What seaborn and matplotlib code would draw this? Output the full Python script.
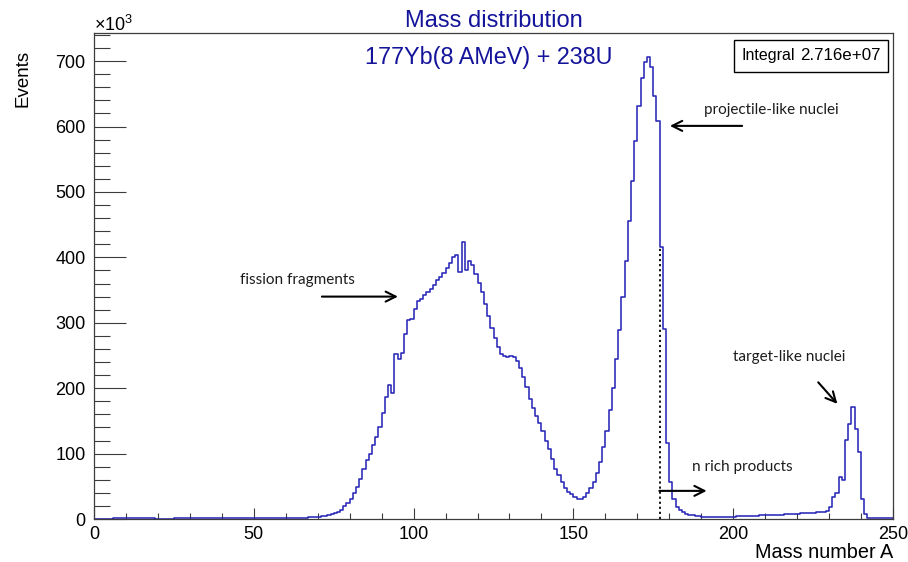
import numpy as np
import pandas as pd
import matplotlib
matplotlib.use("Agg")
import matplotlib.pyplot as plt
from matplotlib.ticker import MultipleLocator, FixedLocator
from matplotlib.patches import Rectangle
import seaborn as sns

# ---------------- data (events per unit-mass bin, in thousands) ----------------
mass_number = list(range(0, 250))          # left edge of each bin
bin_edges = list(range(0, 251))
events_k = [
    0, 0, 0, 0, 0, 0, 1.2, 1.2, 1.2, 1.2,                       # 0-9
    1.2, 1.2, 1.2, 1.2, 1.2, 1.2, 1.2, 1.2, 1.2, 0,             # 10-19
    0, 0, 0, 0, 0, 1.2, 1.2, 1.2, 1.2, 1.2,                     # 20-29
    1.2, 1.2, 1.2, 1.2, 1.2, 1.2, 1.2, 1.2, 1.2, 1.2,           # 30-39
    1.2, 1.2, 1.2, 1.2, 1.2, 1.2, 1.2, 1.2, 1.2, 1.2,           # 40-49
    1.2, 1.2, 1.2, 1.2, 1.2, 1.2, 1.2, 1.2, 1.2, 1.2,           # 50-59
    1.3, 1.4, 1.5, 1.6, 1.8, 2.0, 2.2, 2.5, 2.8, 3.2,           # 60-69
    3.6, 4.2, 5.0, 6.0, 7.2, 8.7, 11, 14.5, 19.5, 24.7,         # 70-79
    31.3, 39, 49, 61.7, 75.8, 90, 100, 113, 125.7, 140,         # 80-89
    162.5, 187, 205.6, 193, 252, 245, 254, 283, 304.8, 305,     # 90-99
    320.6, 334, 337, 342, 347, 352, 357, 365, 370, 376,         # 100-109
    384, 391, 400, 403, 377.6, 423, 380, 395, 389, 375,         # 110-119
    361, 347, 329, 311, 292, 276, 263, 252, 249, 248,           # 120-129
    249.5, 248, 241, 231.5, 217, 202, 184, 170, 158, 147,       # 130-139
    134, 120, 107, 91, 77, 67, 56, 47, 42, 37.7,                # 140-149
    34, 31, 30, 34, 40, 47, 57, 71, 87.5, 110,                  # 150-159
    135, 167, 201, 244, 289.5, 340, 394, 456, 517, 578,         # 160-169
    632, 674, 698, 705.6, 691, 647, 609, 416, 291, 116.5,       # 170-179
    57, 30, 19, 13, 10, 8, 6.5, 5.5, 4.5, 4,                    # 180-189
    3.5, 3.4, 3.3, 3.3, 3.2, 3.2, 3.3, 3.4, 3.5, 3.6,           # 190-199
    3.8, 4, 4.2, 4.4, 4.6, 4.8, 5, 5.2, 5.4, 5.6,               # 200-209
    5.8, 6, 6.2, 6.4, 6.6, 6.8, 7, 7.3, 7.6, 7.9,               # 210-219
    8.2, 8.5, 8.8, 9.1, 9.4, 9.7, 10, 10.5, 11, 12,             # 220-229
    18.6, 33, 39, 63.6, 59.5, 120.6, 146, 170.5, 138, 102.7,    # 230-239
    30, 7.6, 1.5, 1.5, 1.5, 1.5, 1.5, 1.5, 1.5, 1.5,            # 240-249
]
projectile_mass = 177

title = "Mass distribution"
subtitle = "177Yb(8 AMeV) + 238U"
integral_label = "Integral"
integral_value = "2.716e+07"
x_label = "Mass number A"
y_label = "Events"
x_ticks = [0, 50, 100, 150, 200, 250]
y_ticks = [0, 100, 200, 300, 400, 500, 600, 700]

# annotations: (text, text pos, arrow tail, arrow head) in data coords
annotations = [
    ("fission fragments", (45.7, 365), (71.3, 340), (95.1, 340)),
    ("projectile-like nuclei", (191.0, 625), (202.8, 601), (180.2, 601)),
    ("target-like nuclei", (199.9, 247), (226.6, 209), (232.6, 176)),
    ("n rich products", (187.1, 79), (176.9, 43), (191.7, 43)),
]

# ---------------- style ----------------
sns.set_theme(style="ticks")
plt.rcParams["font.family"] = ["Liberation Sans", "DejaVu Sans"]
plt.rcParams["mathtext.fontset"] = "custom"
plt.rcParams["mathtext.rm"] = "Liberation Sans"
plt.rcParams["mathtext.it"] = "Liberation Sans:italic"

blue_text = "#14149b"
hist_color = "#2828b8"
frame_color = "#3c3c3c"

W, H = 908, 562
fig = plt.figure(figsize=(W / 100, H / 100), dpi=100)
L, R, T, B = 94, 893, 33, 519
ax = fig.add_axes([L / W, 1 - B / H, (R - L) / W, (B - T) / H])

df = pd.DataFrame({"A": np.array(mass_number) + 0.5, "events": events_k})
sns.histplot(data=df, x="A", weights="events", bins=bin_edges, element="step",
             fill=False, color=hist_color, linewidth=1.15, ax=ax, zorder=2)

# dotted marker at projectile mass, up to the bin height
ax.vlines(projectile_mass, 0, events_k[mass_number.index(projectile_mass)],
          colors="black", linestyles=(0, (1.2, 1.6)), linewidth=1.3, zorder=3)

ax.set_xlim(0, 250)
ax.set_ylim(0, 743)

# ticks
ax.xaxis.set_major_locator(FixedLocator(x_ticks))
ax.xaxis.set_minor_locator(MultipleLocator(10))
ax.yaxis.set_major_locator(FixedLocator(y_ticks))
ax.yaxis.set_minor_locator(MultipleLocator(20))
ax.tick_params(axis="y", which="major", direction="in", length=23, width=0.8,
               color=frame_color, labelsize=13, pad=6, labelcolor="black")
ax.tick_params(axis="y", which="minor", direction="in", length=11.5, width=0.8,
               color=frame_color)
ax.tick_params(axis="x", which="major", direction="in", length=8, width=0.8,
               color=frame_color, labelsize=13, pad=5, labelcolor="black")
ax.tick_params(axis="x", which="minor", direction="in", length=4, width=0.8,
               color=frame_color)
ax.tick_params(top=False, right=False, which="both")

for s in ax.spines.values():
    s.set_visible(True)
    s.set_color(frame_color)
    s.set_linewidth(0.9)
    s.set_zorder(4)

# axis labels
ax.set_xlabel(x_label, fontsize=14.3, loc="right", color="black")
ax.xaxis.set_label_coords(1.0, -0.05)
ax.set_ylabel(y_label, fontsize=13.5, loc="top", color="black")
ax.yaxis.set_label_coords(-0.078, 0.966)

# x10^3 multiplier
ax.text(0.0, 1.004, r"$\mathregular{\times10^{3}}$", transform=ax.transAxes,
        ha="left", va="baseline", fontsize=13, color="black")

# titles
ax.set_title(title, fontsize=17, color=blue_text, pad=4)
ax.text(0.494, 0.9486, subtitle, transform=ax.transAxes, ha="center",
        va="center", fontsize=16.8, color=blue_text)

# integral box
ax.add_patch(Rectangle((0.801, 0.9198), 0.1927, 0.0658, transform=ax.transAxes,
                       facecolor="white", edgecolor="black", linewidth=1.0,
                       zorder=5))
ax.text(0.8098, 0.9527, integral_label, transform=ax.transAxes, ha="left",
        va="center", fontsize=11.5, color="black", zorder=6)
ax.text(0.8836, 0.9527, integral_value, transform=ax.transAxes, ha="left",
        va="center", fontsize=12.2, color="black", zorder=6)

# annotations
for text, tpos, tail, head in annotations:
    ax.text(tpos[0], tpos[1], text, ha="left", va="center", fontsize=11,
            family=["Lato", "DejaVu Sans"], color="#1c1c1c", zorder=6)
    ax.annotate("", xy=head, xytext=tail,
                arrowprops=dict(arrowstyle="->", lw=1.5, color="black",
                                mutation_scale=18, shrinkA=0, shrinkB=0),
                zorder=6)

fig.savefig("out.png", dpi=100, facecolor="white")
